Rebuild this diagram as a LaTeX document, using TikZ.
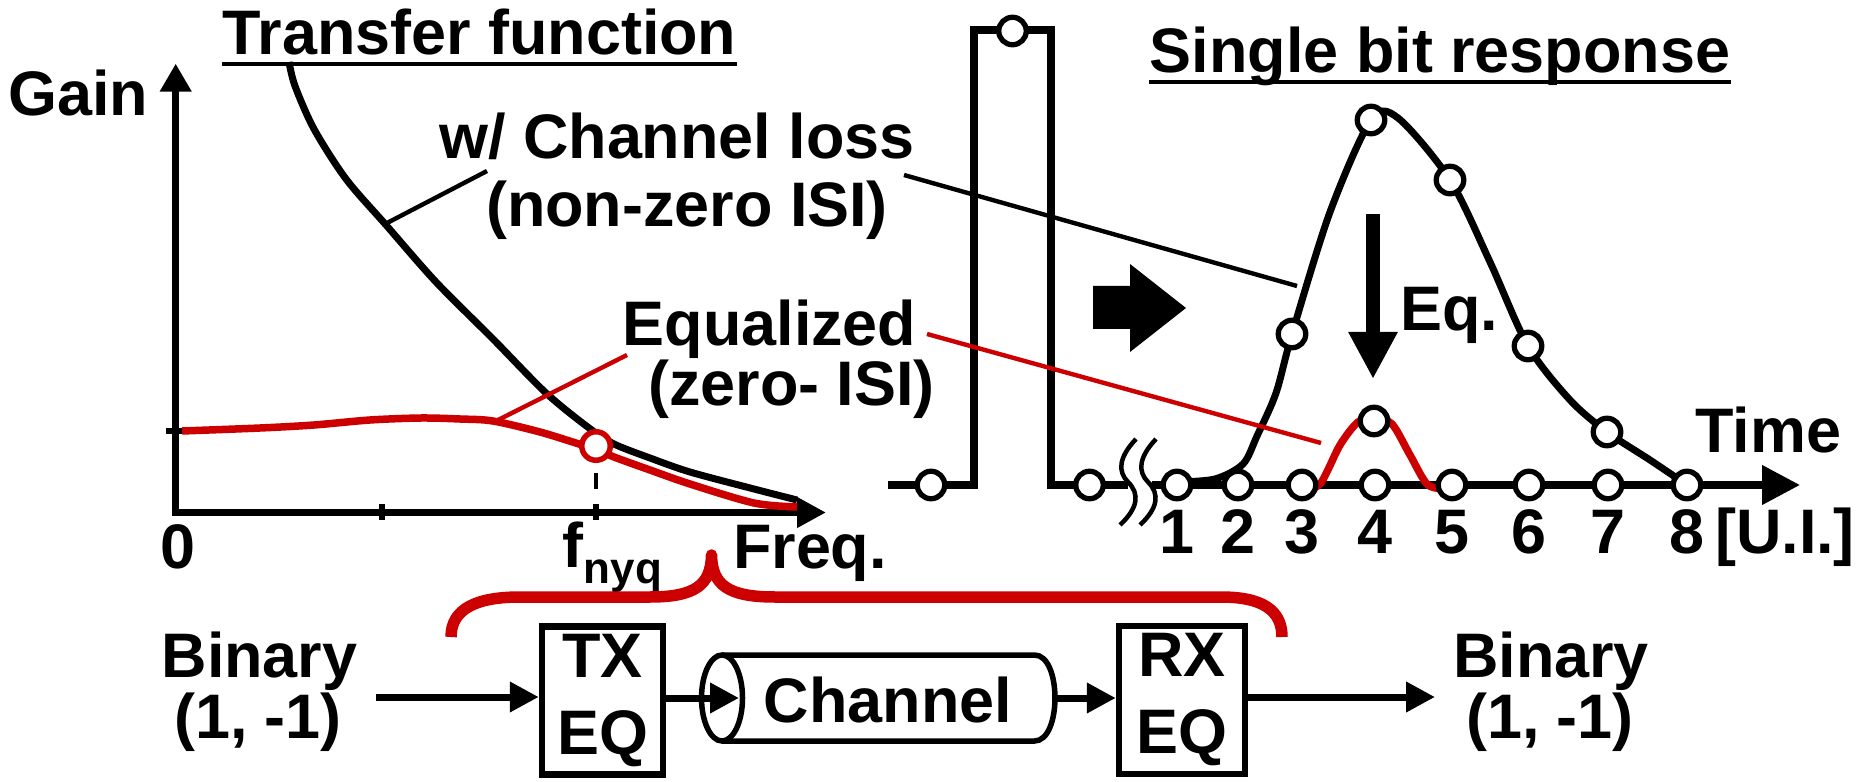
\documentclass[tikz,border=0pt]{standalone}
\usepackage{fontspec}
\setmainfont{Liberation Sans}
\usetikzlibrary{positioning,arrows.meta,shapes.geometric}
\definecolor{eqred}{RGB}{204,0,0}
\newcommand{\lblfont}{\fontsize{17.9pt}{21pt}\selectfont\bfseries}
\newcommand{\subfont}{\fontsize{12.5pt}{14pt}\selectfont\bfseries}

\begin{document}
\begin{tikzpicture}[x=0.1mm, y=-0.1mm,
    lbl/.style={inner sep=0pt, font=\lblfont, anchor=base},
    plotaxis/.style={line width=0.75mm},
    uline/.style={line width=0.42mm},
    blkcurve/.style={line width=0.7mm, line join=round},
    redcurve/.style={eqred, line width=0.75mm, line join=round},
    leader/.style={line width=0.44mm},
    dot/.style={circle, draw, fill=white, line width=0.53mm, minimum size=2.75mm, inner sep=0pt},
    eqbox/.style={draw, line width=0.65mm, minimum height=14.8mm, inner sep=0pt, align=center,
                  font=\fontsize{17.9pt}{21.9pt}\selectfont\bfseries},
    arrow/.style={-{Triangle[length=2.9mm, width=2.9mm]}, line width=0.7mm}
]
\path[use as bounding box, fill=white] (0,0) rectangle (1858,782);

% Transfer function (left plot)
\node[lbl] (tf) at (479.5,55) {Transfer function};
\draw[uline] ([yshift=-0.9mm]tf.base west) -- ([yshift=-0.9mm]tf.base east);
\node[lbl] (gain) at (78,116) {Gain};
\node[lbl] (zero) at (178,568) {0};
\node[lbl] (fnyq) at (612.5,567) {f\raisebox{-1.6mm}{\subfont nyq}};
\node[lbl] (freq) at (810,568) {Freq.};
\node[lbl] (loss1) at (677,159) {w/ Channel loss};
\node[lbl] (loss2) at (687,227) {(non-zero ISI)};
\node[lbl] (equ1) at (769.5,345) {Equalized};
\node[lbl] (equ2) at (791.5,405) {(zero- ISI)};

\draw[plotaxis, {Triangle[length=2.8mm, width=3mm]}-{Triangle[length=2.9mm, width=2.9mm]}]
    (175.7,63.6) -- (175.7,512.5) -- (826,512.5);
\draw[line width=0.55mm] (382,504) -- (382,520) (596,504) -- (596,520) (166,431) -- (182,431);
\draw[line width=0.4mm] (596,473) -- (596,489);

\draw[blkcurve] plot[smooth] coordinates {(289,62) (295,86) (314,129) (346,179) (386,225) (436,282)
    (493,339) (546,393) (589,428) (614,444) (650,458) (690,472) (754,489) (797,500)};
\draw[redcurve] plot[smooth] coordinates {(182,431) (260,428) (314,425) (370,420) (421,418) (460,419)
    (493,421) (540,432) (579,444) (596,449) (614,457) (650,470) (690,484) (754,503) (797,507)};
\node[dot, draw=eqred, line width=0.55mm, minimum size=2.85mm] (fpt) at (596,446) {};

% Leaders (left)
\coordinate (lossA) at (387,223);
\coordinate (lossB) at (487,171);
\coordinate (equA) at (496,421);
\coordinate (equB) at (627,355);
\draw[leader] (lossA) -- (lossB);
\draw[leader, eqred] (equA) -- (equB);

% Single bit response (right plot)
\node[lbl] (sbr) at (1440,73) {Single bit response};
\draw[uline] ([yshift=-0.9mm]sbr.base west) -- ([yshift=-0.9mm]sbr.base east);
\node[lbl] (eqlbl) at (1449.5,330) {Eq.};
\node[lbl] (time) at (1768.5,452) {Time};
\node[lbl] (ui) at (1785,553) {[U.I.]};

\draw[plotaxis] (888,485) -- (974,485) -- (974,30) -- (1051,30) -- (1051,485) -- (1128,485);
\draw[plotaxis, -{Triangle[length=3.8mm, width=3.8mm]}] (1152,485) -- (1800,485);
\foreach \dx in {0,20}
    \draw[line width=0.45mm] (1136+\dx,439) .. controls (1118+\dx,458) and (1118+\dx,472) .. (1128+\dx,482)
        .. controls (1140+\dx,494) and (1138+\dx,508) .. (1120+\dx,525);

\draw[blkcurve] plot[smooth] coordinates {(1177,482) (1215,479) (1243,464) (1257,436) (1276,393)
    (1292,334) (1330,212) (1371,120) (1398,118) (1450,180) (1490,262) (1528,346) (1570,400)
    (1607,432) (1650,460) (1687,485)};
\draw[redcurve] plot[smooth] coordinates {(1302,489) (1320,484) (1340,445) (1358,422) (1374,418)
    (1392,424) (1410,455) (1428,485) (1450,489)};

\node[dot] (plo) at (931,485) {};
\node[dot] (ptop) at (1012.5,31) {};
\node[dot] (phi) at (1089.5,485) {};
\foreach \t/\x in {1/1177, 2/1238, 3/1302, 4/1375, 5/1452, 6/1529, 7/1608, 8/1687} {
    \node[dot] (s\t) at (\x,485) {};
    \node[lbl] (n\t) at (\x,553) {\t};
}
\node[dot] (c3) at (1292,334) {};
\node[dot] (c4) at (1371,120) {};
\node[dot] (c5) at (1450,180) {};
\node[dot] (c6) at (1528,346) {};
\node[dot] (c7) at (1607,432) {};
\node[dot] (r4) at (1374,421) {};

% Eq. arrow and big arrow
\coordinate (eqtop) at (1373,214);
\coordinate (eqtip) at (1373,379);
\draw[line width=1.4mm, -{Triangle[length=4.7mm, width=4.6mm]}] (eqtop) -- (eqtip);
\fill (1093,286) -- (1130,286) -- (1130,264) -- (1186,308) -- (1130,352) -- (1130,329) -- (1093,329) -- cycle;

% Leaders (right)
\coordinate (lossC) at (904,175);
\coordinate (lossD) at (1297,286);
\coordinate (equC) at (927,334);
\coordinate (equD) at (1321,443);
\draw[leader] (lossC) -- (lossD);
\draw[leader, eqred] (equC) -- (equD);

% Link chain
\node[lbl] (binL) at (259.5,677) {Binary};
\node[lbl] (binLv) at (258,738) {(1, -1)};
\node[eqbox, minimum width=12.1mm] (tx) at (602.5,700.5) {TX\\EQ};
\node[ellipse, draw, line width=0.55mm, minimum width=4.1mm, minimum height=8.6mm,
      inner sep=0pt, outer sep=0pt] (face) at (722,698) {};
\draw[line width=0.55mm] (face.north) -- (1034.5,655) .. controls (1061.8,655) and (1061.8,741) .. (1034.5,741) -- (face.south);
\node[lbl] (chan) at (888,722) {Channel};
\coordinate (chanR) at (1055,698);
\node[eqbox, minimum width=12.6mm] (rx) at (1182,700) {RX\\EQ};
\node[lbl] (binR) at (1551,677) {Binary};
\node[lbl] (binRv) at (1550,738) {(1, -1)};
\coordinate (inL) at (376,697);
\coordinate (outR) at (1435,697);

\draw[arrow] (inL) -- (inL -| tx.west);
\draw[arrow] (tx.east |- face.center) -- ([xshift=-0.35mm]face.east);
\draw[arrow] (chanR) -- (chanR -| rx.west);
\draw[arrow] (rx.east |- outR) -- (outR);

% Brace
\draw[eqred, line width=1.15mm, line join=round] (451,637) .. controls (451,608) and (478,597) .. (520,597)
    -- (650,597) .. controls (695,597) and (711,585) .. (711.5,555)
    .. controls (712,585) and (728,597) .. (775,597) -- (1221,597)
    .. controls (1262,597) and (1282,610) .. (1282,637);
\end{tikzpicture}
\end{document}
